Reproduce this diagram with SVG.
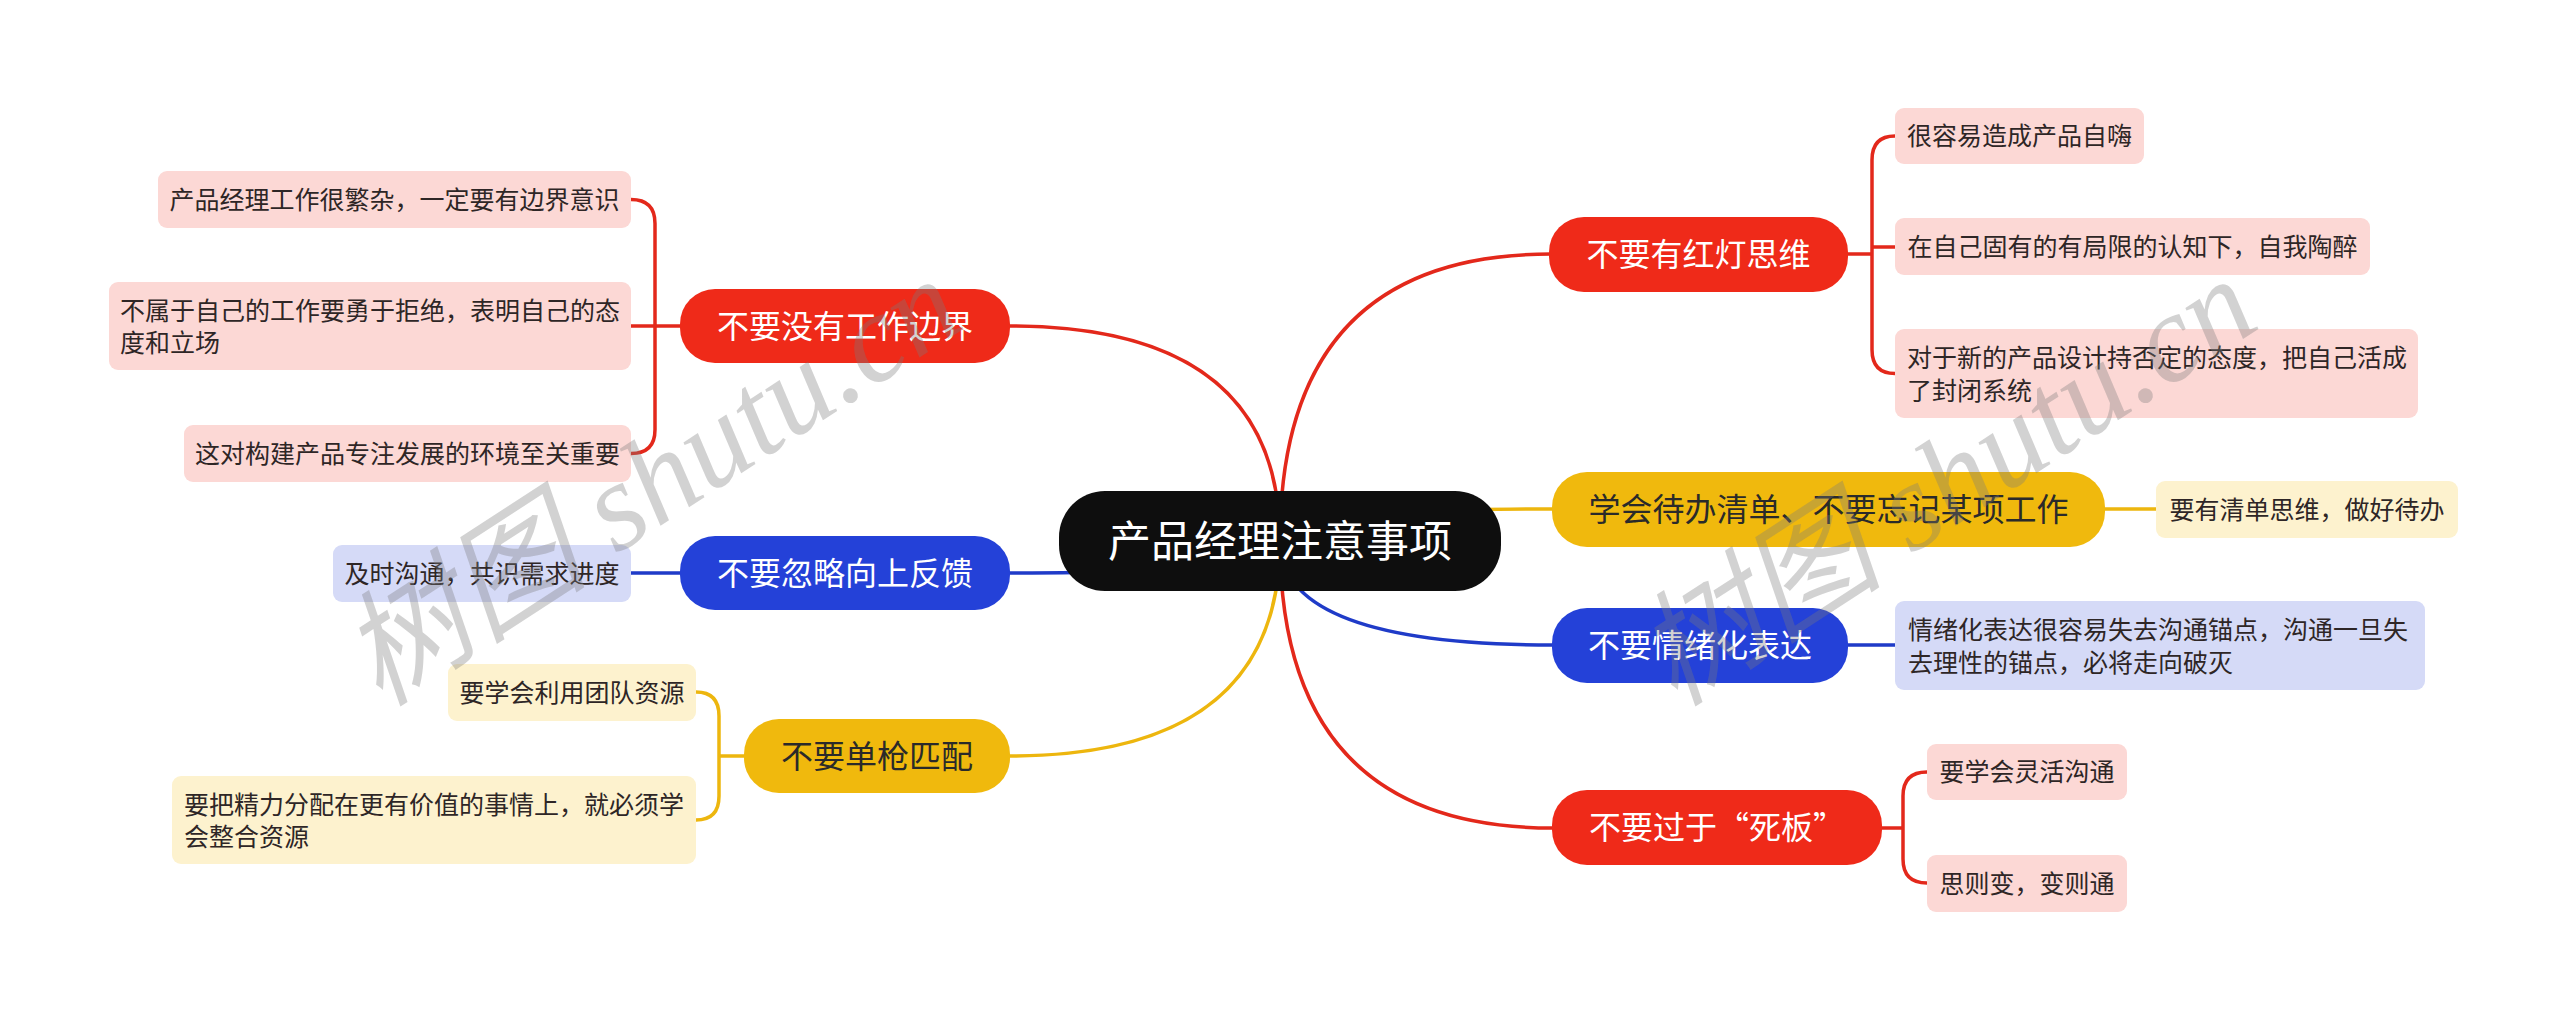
<svg xmlns="http://www.w3.org/2000/svg" width="2560" height="1019" viewBox="0 0 2560 1019">
<style>
text { font-family: "Noto Sans CJK SC", "Noto Sans", sans-serif; }
.c { fill: none; stroke-width: 3.5; stroke-linecap: round; stroke-linejoin: round; }
.cr { stroke: #E3281B; }
.cb { stroke: #1F3BC8; }
.cy { stroke: #EDB60E; }
.root { fill: #0E0E0E; }
.pr { fill: #EF2A19; }
.pb { fill: #2441D8; }
.py { fill: #F0B90D; }
.kr { fill: #FCD8D5; }
.kb { fill: #D5DAF7; }
.ky { fill: #FDF2CE; }
.tw { fill: #FFFFFF; font-size: 32px; text-anchor: middle; }
.td { fill: #2A2A2A; font-size: 32px; text-anchor: middle; }
.tk { fill: #2E2626; font-size: 25px; }
.tm { text-anchor: middle; }
.wm { font-family: "Liberation Serif", "Noto Sans CJK SC", serif; font-style: italic; font-size: 125px; fill: #7A7A7A; fill-opacity: 0.34; }
</style>
<rect x="0" y="0" width="2560" height="1019" fill="#FFFFFF"/>

<g id="connectors">
  <path class="c cr" d="M1280,541 Q1280,326 1010,326"/>
  <path class="c cb" d="M1280,541 Q1280,573 1010,573"/>
  <path class="c cy" d="M1280,541 Q1280,756 1010,756"/>
  <path class="c cr" d="M1280,541 Q1280,254 1551,254"/>
  <path class="c cy" d="M1280,541 Q1280,509 1553,509"/>
  <path class="c cb" d="M1280,541 Q1280,645 1553,645"/>
  <path class="c cr" d="M1280,541 Q1280,828 1553,828"/>
  <path class="c cr" d="M680,326 H655 M655,326 V223.5 Q655,199.5 631,199.5 M655,326 V429.5 Q655,453.5 631,453.5 M655,326 H631"/>
  <path class="c cb" d="M680,573 H631"/>
  <path class="c cy" d="M744,756 H719 M719,756 V716 Q719,692 696,692 M719,756 V796 Q719,820 696,820"/>
  <path class="c cr" d="M1848,254 H1872 M1872,254 V160 Q1872,136 1895,136 M1872,254 V247 H1895 M1872,254 V349.5 Q1872,373.5 1895,373.5"/>
  <path class="c cy" d="M2105,509 H2156"/>
  <path class="c cb" d="M1848,645 H1895"/>
  <path class="c cr" d="M1882,828 H1903 M1903,828 V796 Q1903,772 1927,772 M1903,828 V859 Q1903,883 1927,883"/>
</g>

<g id="root">
  <rect class="root" x="1059" y="491" width="442" height="100" rx="46"/>
  <text x="1280" y="557" style="fill:#FFFFFF;font-size:43px;text-anchor:middle">产品经理注意事项</text>
</g>

<g id="L1">
  <rect class="pr" x="680" y="289" width="330" height="74" rx="35"/>
  <text class="tw" x="845" y="338">不要没有工作边界</text>
</g>
<g id="L1a">
  <rect class="kr" x="158" y="171" width="473" height="57" rx="9"/>
  <text class="tk tm" x="394.5" y="208.5">产品经理工作很繁杂，一定要有边界意识</text>
</g>
<g id="L1b">
  <rect class="kr" x="109" y="282" width="522" height="88" rx="9"/>
  <text class="tk" x="120" y="319.5">不属于自己的工作要勇于拒绝，表明自己的态</text>
  <text class="tk" x="120" y="352">度和立场</text>
</g>
<g id="L1c">
  <rect class="kr" x="184" y="425" width="447" height="57" rx="9"/>
  <text class="tk tm" x="407.5" y="462.5">这对构建产品专注发展的环境至关重要</text>
</g>

<g id="L2">
  <rect class="pb" x="680" y="536" width="330" height="74" rx="35"/>
  <text class="tw" x="845" y="585">不要忽略向上反馈</text>
</g>
<g id="L2a">
  <rect class="kb" x="333" y="545" width="298" height="57" rx="9"/>
  <text class="tk tm" x="482" y="582.5">及时沟通，共识需求进度</text>
</g>

<g id="L3">
  <rect class="py" x="744" y="719" width="266" height="74" rx="35"/>
  <text class="td" x="877" y="768">不要单枪匹配</text>
</g>
<g id="L3a">
  <rect class="ky" x="448" y="664" width="248" height="57" rx="9"/>
  <text class="tk tm" x="572" y="701.5">要学会利用团队资源</text>
</g>
<g id="L3b">
  <rect class="ky" x="172" y="776" width="524" height="88" rx="9"/>
  <text class="tk" x="184" y="813.5">要把精力分配在更有价值的事情上，就必须学</text>
  <text class="tk" x="184" y="846">会整合资源</text>
</g>

<g id="R1">
  <rect class="pr" x="1549" y="217" width="299" height="75" rx="35"/>
  <text class="tw" x="1698.5" y="266">不要有红灯思维</text>
</g>
<g id="R1a">
  <rect class="kr" x="1895" y="108" width="249" height="56" rx="9"/>
  <text class="tk tm" x="2019.5" y="145">很容易造成产品自嗨</text>
</g>
<g id="R1b">
  <rect class="kr" x="1895" y="218" width="475" height="57" rx="9"/>
  <text class="tk tm" x="2132.5" y="255.5">在自己固有的有局限的认知下，自我陶醉</text>
</g>
<g id="R1c">
  <rect class="kr" x="1895" y="329" width="523" height="89" rx="9"/>
  <text class="tk" x="1907" y="367">对于新的产品设计持否定的态度，把自己活成</text>
  <text class="tk" x="1907" y="399.5">了封闭系统</text>
</g>

<g id="R2">
  <rect class="py" x="1552" y="472" width="553" height="75" rx="35"/>
  <text class="td" x="1828.5" y="521">学会待办清单、不要忘记某项工作</text>
</g>
<g id="R2a">
  <rect class="ky" x="2156" y="481" width="302" height="57" rx="9"/>
  <text class="tk tm" x="2307" y="518.5">要有清单思维，做好待办</text>
</g>

<g id="R3">
  <rect class="pb" x="1552" y="608" width="296" height="75" rx="35"/>
  <text class="tw" x="1700" y="657">不要情绪化表达</text>
</g>
<g id="R3a">
  <rect class="kb" x="1895" y="601" width="530" height="89" rx="9"/>
  <text class="tk" x="1908" y="639">情绪化表达很容易失去沟通锚点，沟通一旦失</text>
  <text class="tk" x="1908" y="671.5">去理性的锚点，必将走向破灭</text>
</g>

<g id="R4">
  <rect class="pr" x="1552" y="790" width="330" height="75" rx="35"/>
  <text class="tw" x="1717" y="839">不要过于“死板”</text>
</g>
<g id="R4a">
  <rect class="kr" x="1927" y="744" width="200" height="56" rx="9"/>
  <text class="tk tm" x="2027" y="781">要学会灵活沟通</text>
</g>
<g id="R4b">
  <rect class="kr" x="1927" y="855" width="200" height="57" rx="9"/>
  <text class="tk tm" x="2027" y="892.5">思则变，变则通</text>
</g>

<g id="watermark">
  <text class="wm" x="380" y="708" transform="rotate(-33 380 708)">树图 shutu.cn</text>
  <text class="wm" x="1675" y="708" transform="rotate(-33 1675 708)">树图 shutu.cn</text>
</g>
</svg>
